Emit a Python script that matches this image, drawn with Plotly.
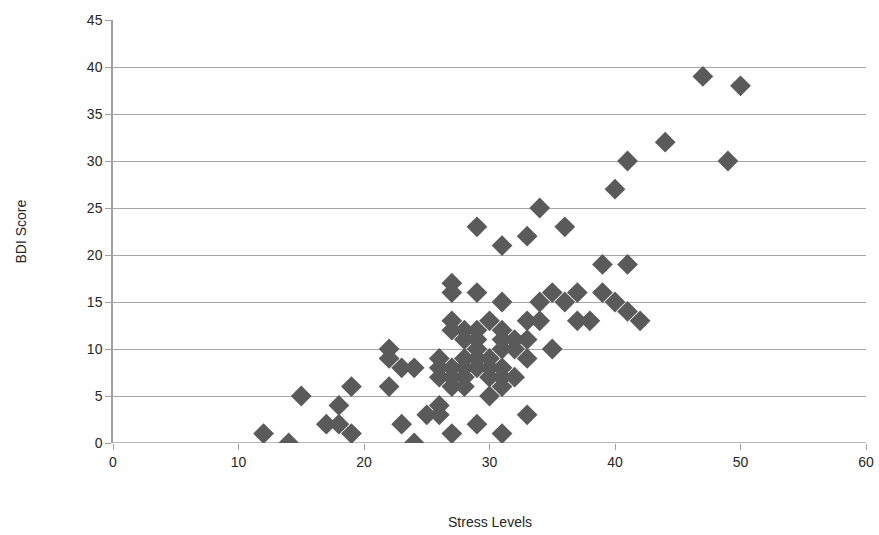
import plotly.graph_objects as go

stress = [12, 14, 15, 17, 18, 18, 19, 19,
          22, 22, 22, 23, 23, 24, 24, 25, 26, 26,
          26, 26, 26, 27, 27, 27, 27, 27, 27, 27, 27,
          28, 28, 28, 28, 28, 28, 29, 29, 29, 29, 29, 29, 29, 29,
          30, 30, 30, 30, 30, 31, 31, 31, 31, 31, 31, 31, 31, 31,
          32, 32, 32, 33, 33, 33, 33, 33, 34, 34, 34, 35, 35,
          36, 36, 37, 37, 38, 39, 39, 40, 40, 41, 41, 41, 42,
          44, 47, 49, 50]
bdi = [1, 0, 5, 2, 4, 2, 1, 6,
       10, 9, 6, 8, 2, 8, 0, 3, 4, 3,
       9, 8, 7, 7, 8, 6, 1, 13, 12, 16, 17,
       12, 11, 9, 8, 7, 6, 23, 16, 12, 11, 10, 9, 8, 2,
       13, 9, 8, 7, 5, 21, 15, 12, 11, 10, 8, 7, 6, 1,
       11, 10, 7, 22, 13, 11, 9, 3, 25, 15, 13, 16, 10,
       23, 15, 16, 13, 13, 19, 16, 27, 15, 30, 19, 14, 13,
       32, 39, 30, 38]

x_ticks = [0, 10, 20, 30, 40, 50, 60]
y_ticks = [0, 5, 10, 15, 20, 25, 30, 35, 40, 45]

fig = go.Figure()
fig.add_trace(go.Scatter(
    x=stress, y=bdi, mode="markers",
    marker=dict(symbol="diamond", size=16, color="#5a5a5a", line=dict(width=0)),
    showlegend=False,
))

font = dict(family="Liberation Sans, Arial, sans-serif", size=14, color="#262626")
fig.update_layout(
    width=879, height=535,
    margin=dict(l=113, r=13, t=20, b=92, autoexpand=False),
    paper_bgcolor="white", plot_bgcolor="white",
    font=font,
    xaxis=dict(
        range=[0, 60], tickvals=x_ticks, showgrid=False, zeroline=False,
        showline=False, ticks="outside", ticklen=6, tickcolor="#a0a0a0",
        tickfont=font, ticklabeloverflow="allow", automargin=False,
    ),
    yaxis=dict(
        range=[0, 45], tickvals=y_ticks, showgrid=True, gridcolor="#a6a6a6",
        gridwidth=1, zeroline=False, showline=True, linecolor="#a0a0a0",
        linewidth=1.5, ticks="outside", ticklen=6, tickcolor="#a0a0a0",
        tickfont=font, ticklabeloverflow="allow", automargin=False,
    ),
    annotations=[
        dict(text="Stress Levels", xref="paper", yref="paper", x=0.5, y=-0.187,
             xanchor="center", yanchor="middle", showarrow=False, font=font),
        dict(text="BDI Score", xref="paper", yref="paper", x=-0.1235, y=0.5,
             xanchor="center", yanchor="middle", textangle=-90, showarrow=False, font=font),
    ],
)
fig.add_hline(y=0, line=dict(color="#a0a0a0", width=1.5), layer="below")
fig.write_html("out.html", config={"displayModeBar": False},
               post_script="document.body.style.margin='0';")
